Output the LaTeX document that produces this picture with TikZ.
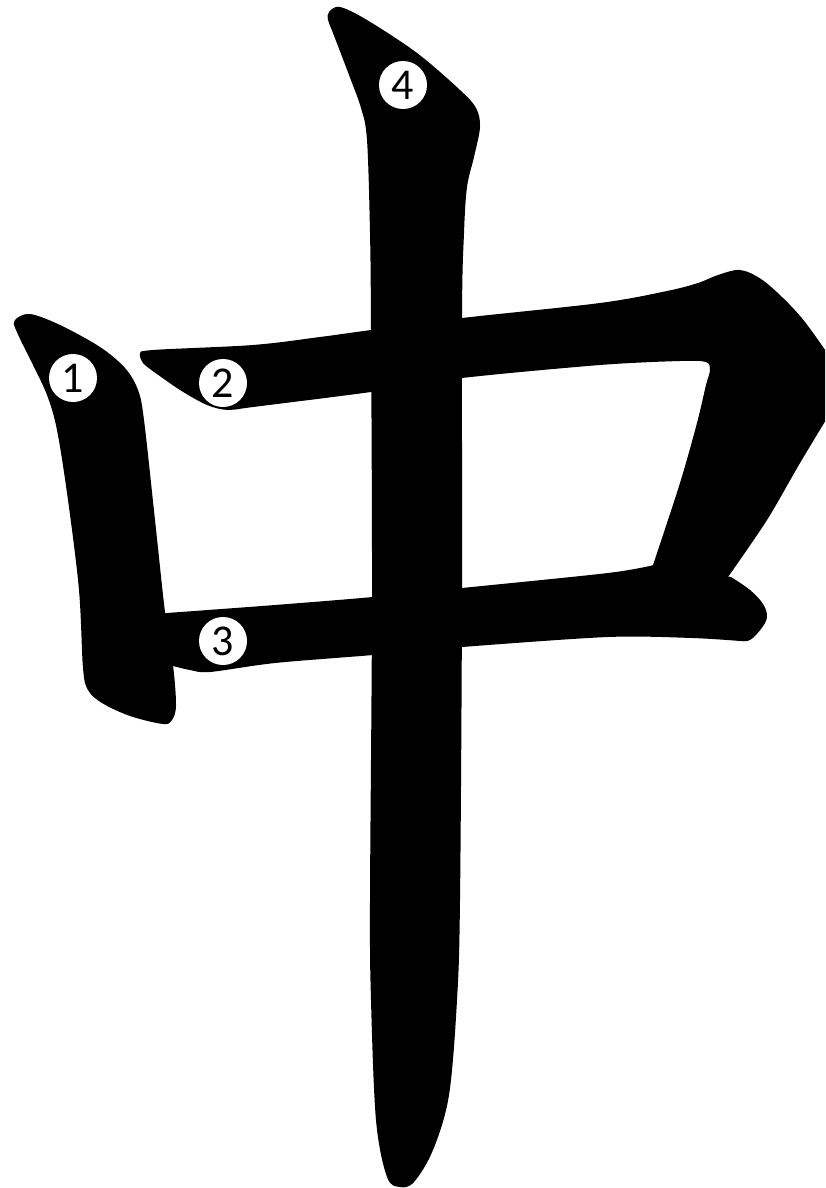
\documentclass[tikz,border=0pt]{standalone}
\usepackage{fontspec}
\setmainfont{Carlito}
\tikzset{
  stroke/.style={fill=black},
  numdisc/.style={circle, fill=white, inner sep=0pt, minimum size=48pt, font=\fontsize{44}{44}\selectfont}
}
\begin{document}
\begin{tikzpicture}[x=1pt,y=-1pt]
\useasboundingbox (0,0) rectangle (825,1188);
\clip (0,0) rectangle (825,1188);
% stroke 1
\fill[stroke] plot[smooth cycle, tension=0.55] coordinates {
 (15,320) (30,314) (60,325) (100,347) (125,368) (138,390) (144,420) (155,520) (165,612)
 (173,665) (176,705) (172,720) (163,724) (130,716) (102,703) (88,690) (83,668) (79,590)
 (68,500) (57,430) (47,395) (33,365) (16,330)};
% stroke 2
\fill[stroke] plot[smooth, tension=0.55] coordinates {
 (143,363) (140,354) (153,350) (253,345) (320,337) (371,330) (462,318) (600,303) (667,291)
 (698,283) (718,275) (740,270) (761,279) (783,298) (805,322) (832,360)}
 -- (832,410) -- plot[smooth, tension=0.5] coordinates {(832,410) (800,463) (767,520) (728,577)}
 -- (700,600) -- (650,590) -- plot[smooth, tension=0.5] coordinates {
 (653,565) (680,483) (697,423) (706,385) (710,370) (706,362) (680,361) (600,365)
 (462,378) (371,392) (253,407) (228,410) (207,405) (180,390) (150,369) (143,363)} -- cycle;
% stroke 3
\fill[stroke] (160,614) -- plot[smooth, tension=0.5] coordinates {
 (167,613) (275,605) (373,597) (462,588) (608,573) (654,565)}
 -- plot[smooth, tension=0.6] coordinates {(731,577) (750,590) (763,604) (767,617) (761,629) (750,640) (740,641)}
 -- plot[smooth, tension=0.5] coordinates {(740,641) (692,638) (608,637) (462,647) (373,655) (275,663) (210,672) (190,670) (173,666)}
 -- (165,650) -- cycle;
% stroke 4
\fill[stroke] plot[smooth cycle, tension=0.55] coordinates {
 (329,12) (340,7) (367,20) (417,53) (460,90) (476,108) (480,127) (474,157) (467,187) (464,233)
 (462,317) (462,600) (460,900) (457,1000) (449,1095) (433,1150) (414,1182) (400,1187) (387,1177)
 (376,1120) (371,1000) (370,900) (372,600) (371,330) (370,233) (367,140) (361,108) (349,75) (333,33) (328,20)};
% numbers
\node[numdisc] (n1) at (73,378) {1};
\node[numdisc] (n2) at (223,383) {2};
\node[numdisc] (n3) at (223,641) {3};
\node[numdisc] (n4) at (403,85) {4};
\end{tikzpicture}
\end{document}
